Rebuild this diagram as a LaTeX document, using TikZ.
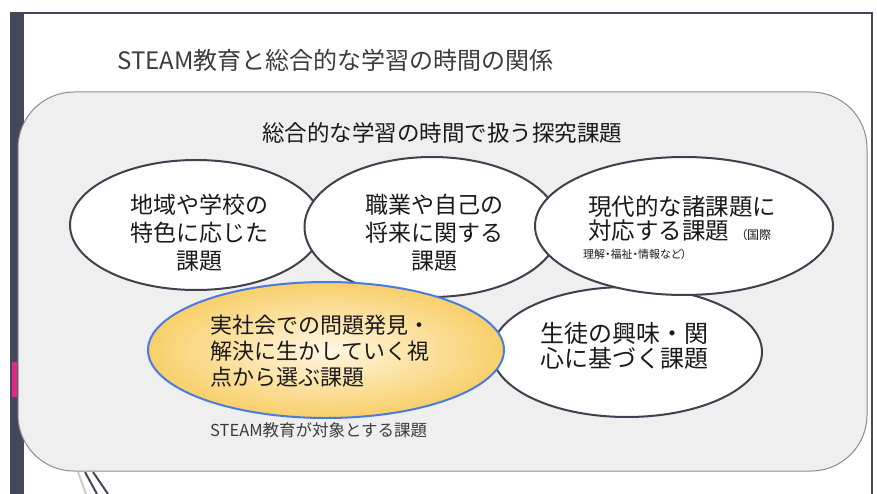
\documentclass[tikz,border=0pt]{standalone}
\usepackage{fontspec}
\setmainfont{Noto Sans CJK JP}
\newfontfamily\palfont[RawFeature=+palt]{Noto Sans CJK JP}
\usetikzlibrary{shapes.geometric}
\definecolor{barcol}{HTML}{45475A}
\definecolor{pinkcol}{HTML}{E0288C}
\definecolor{panelfill}{HTML}{EFEFEF}
\definecolor{panelline}{HTML}{8C8C8C}
\definecolor{ellline}{HTML}{40404E}
\definecolor{blueline}{HTML}{4A7BE0}
\definecolor{yellowout}{HTML}{F8CF6A}
\definecolor{yellowin}{HTML}{FFF7E2}
\definecolor{titlecol}{HTML}{3C3C3C}
\definecolor{txtcol}{HTML}{1A1A1A}
\tikzset{
  topic/.style={ellipse, draw=ellline, line width=2pt, fill=white, inner sep=0pt},
  focus/.style={ellipse, draw=blueline, line width=2pt, inner color=yellowin, outer color=yellowout, inner sep=0pt},
  bigtxt/.style={inner sep=0pt, text=txtcol},
}
\begin{document}
\begin{tikzpicture}[x=1pt,y=-1pt]
\useasboundingbox (0,0) rectangle (877,494);
\fill[white] (0,0) rectangle (877,494);
% slide frame
\fill[barcol] (10,13) rectangle (24,494);
\fill[pinkcol] (12,362) rectangle (17,397);
\draw[barcol, line width=1.5pt] (10,13) -- (872,13) -- (872,494);
% decorative lines bottom left
\draw[gray!40, line width=2pt] (78,472) -- (86,494);
\draw[barcol, line width=2pt] (85,472) -- (97,494);
\draw[barcol, line width=2pt] (93,472) -- (108,494);
% title
\node[anchor=west, inner sep=0pt, text=titlecol, font=\fontsize{24}{28}\selectfont] (title) at (117,60) {STEAM教育と総合的な学習の時間の関係};
% panel
\draw[fill=panelfill, draw=panelline, line width=1pt, rounded corners=56pt] (18,92) rectangle (867,471);
\node[bigtxt, font=\fontsize{22.5}{26}\selectfont] (head) at (442,133) {総合的な学習の時間で扱う探究課題};
% ellipses
\node[topic, minimum width=252pt, minimum height=130pt] (e1) at (196,225) {};
\node[topic, minimum width=255pt, minimum height=140pt] (e2) at (432,227) {};
\node[topic, minimum width=270pt, minimum height=130pt] (e5) at (627,352) {};
\node[topic, minimum width=298pt, minimum height=138pt] (e3) at (684,226) {};
\node[focus, minimum width=356pt, minimum height=136pt] (e4) at (326,350) {};
% texts
\node[bigtxt, align=center, font=\fontsize{23}{28}\selectfont] (t1) at (199,233) {地域や学校の\\特色に応じた\\課題};
\node[bigtxt, align=center, font=\fontsize{23}{28}\selectfont] (t2) at (434,233) {職業や自己の\\将来に関する\\課題};
\node[bigtxt, anchor=west, font=\fontsize{23.5}{26}\selectfont] (t3a) at (588,207) {現代的な諸課題に};
\node[bigtxt, anchor=base west, font=\fontsize{23.5}{26}\selectfont] (t3b) at (588,240) {対応する課題};
\node[bigtxt, anchor=base west, font=\fontsize{12}{13}\selectfont\palfont] (t3d) at (741,240) {（国際};
\node[bigtxt, anchor=west, font=\fontsize{11}{12}\selectfont\palfont] (t3c) at (583,254) {理解・福祉・情報など）};
\node[bigtxt, anchor=west, align=left, font=\fontsize{22}{26}\selectfont] (t4) at (210,351) {実社会での問題発見・\\解決に生かしていく視\\点から選ぶ課題};
\node[bigtxt, anchor=west, align=left, font=\fontsize{24}{25}\selectfont] (t5) at (540,345.5) {生徒の興味・関\\心に基づく課題};
\node[anchor=west, inner sep=0pt, text=titlecol, font=\fontsize{16.5}{18}\selectfont] (cap) at (210,430) {STEAM教育が対象とする課題};
\end{tikzpicture}
\end{document}
